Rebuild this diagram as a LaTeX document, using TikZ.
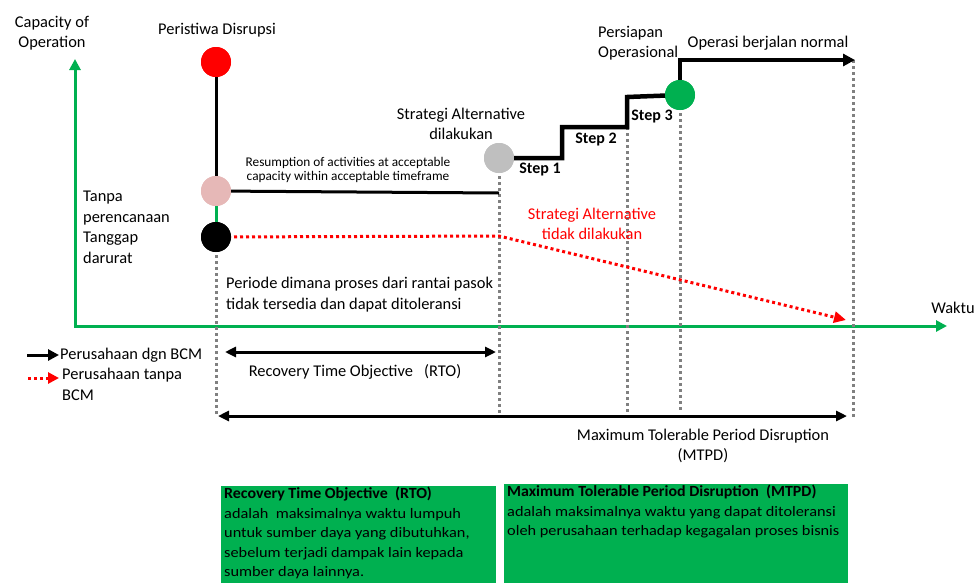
\documentclass[tikz,border=0pt]{standalone}
\usepackage{fontspec}
\setmainfont{Carlito}
\newfontfamily\boxbody[FakeStretch=1.125]{Carlito}
\newfontfamily\boxhead[FakeStretch=1.03]{Carlito}
\newcommand{\boxtitle}[1]{{\boxhead\bfseries\fontsize{15.5}{19.5}\selectfont #1}}
\usetikzlibrary{arrows.meta}
\definecolor{axisgreen}{HTML}{00B050}
\definecolor{dotgray}{HTML}{808080}
\definecolor{pinkdot}{HTML}{E6B8B7}
\definecolor{altgray}{HTML}{BFBFBF}
\definecolor{alertred}{HTML}{FF0000}
\begin{document}
\begin{tikzpicture}[x=1pt,y=-1pt,
  dot/.style={circle,inner sep=0pt,minimum size=30pt,fill=#1},
  guide/.style={draw=dotgray,line width=3pt,dash pattern=on 3pt off 3pt},
  redpath/.style={draw=alertred,line width=3pt,dash pattern=on 3pt off 3pt},
  big/.style={inner sep=0pt,align=center,font=\fontsize{16.4}{20.5}\selectfont},
  bigl/.style={inner sep=0pt,align=left,font=\fontsize{16.4}{20.5}\selectfont},
  small/.style={inner sep=0pt,align=center,font=\fontsize{13.3}{14.5}\selectfont},
  steplbl/.style={inner sep=0pt,font=\bfseries\fontsize{16}{18}\selectfont},
  infobox/.style={fill=axisgreen,draw=none},
  infotext/.style={inner sep=0pt,align=left,anchor=north west,font=\boxbody\fontsize{14.5}{19.5}\selectfont}
]
\clip (0,0) rectangle (980,582);
\fill[white] (0,0) rectangle (980,582);

% axes
\coordinate (origin) at (75,326);
\coordinate (ytip) at (75,59);
\coordinate (xtip) at (947,326);
\draw[axisgreen,line width=3pt,{Triangle[length=11pt,width=11pt]}-{Triangle[length=11pt,width=11pt]}]
  (ytip) -- (origin) -- (xtip);
\node[big] (ylab) at (52,33) {Capacity of\\Operation};
\node[big] (xlab) at (953,308) {Waktu};

% milestone markers (placed first so lines can refer to them)
\node[dot=alertred] (disr) at (216,62) {};
\node[dot=pinkdot] (resum) at (216,191) {};
\node[dot=black] (nobcm) at (216,237) {};
\node[dot=altgray] (alt) at (499,158) {};
\node[dot=axisgreen] (prep) at (680,95) {};

% vertical time guides
\coordinate (g1a) at (216,237); \coordinate (g1b) at (216,416);
\coordinate (g2a) at (499,158); \coordinate (g2b) at (499,418);
\coordinate (g3a) at (627,97);  \coordinate (g3b) at (627,412);
\coordinate (g4a) at (680,95);  \coordinate (g4b) at (680,412);
\coordinate (g5a) at (853,60);  \coordinate (g5b) at (853,418);
\draw[guide] (g1a) -- (g1b);
\draw[guide] (g2a) -- (g2b);
\draw[guide] (g3a) -- (g3b);
\draw[guide] (g4a) -- (g4b);
\draw[guide] (g5a) -- (g5b);

% path without BCM
\coordinate (rbend) at (499,236);
\coordinate (rend) at (846,320);
\draw[redpath,-{Triangle[length=12pt,width=11pt]}] (nobcm.center) -- (rbend) -- (rend);

% path with BCM
\draw[black,line width=3pt] (disr.center) -- (resum.center);
\draw[axisgreen,line width=3pt] (resum.center) -- (nobcm.center);
\coordinate (resumend) at (499,193);
\draw[black,line width=3pt] (resum.center) -- (resumend);
\coordinate (s1) at (562,158); \coordinate (s1u) at (562,127);
\coordinate (s2) at (627,127); \coordinate (s2u) at (627,97);
\coordinate (s3u) at (680,60); \coordinate (normal) at (855,60);
\draw[black,line width=4.5pt,line join=miter]
  (alt.center) -- (s1) -- (s1u) -- (s2) -- (s2u) -- (prep.center);
\draw[black,line width=4.5pt,line join=miter,-{Triangle[length=12pt,width=12pt]}]
  (prep.center) -- (s3u) -- (normal);

% markers on top
\node[dot=alertred] at (disr) {};
\node[dot=pinkdot] at (resum) {};
\node[dot=black] at (nobcm) {};
\node[dot=altgray] at (alt) {};
\node[dot=axisgreen] at (prep) {};

% labels on the chart
\node[big] (disrlab) at (217,30) {Peristiwa Disrupsi};
\node[bigl,anchor=north west] (tanpa) at (83,191) {Tanpa\\perencanaan\\Tanggap\\darurat};
\node[small] (resumlab) at (348,170) {Resumption of activities at acceptable\\capacity within acceptable timeframe};
\node[big] (altlab) at (461,124) {Strategi Alternative\\dilakukan};
\node[steplbl] (st1) at (540,170) {Step 1};
\node[steplbl] (st2) at (596,140) {Step 2};
\node[steplbl] (st3) at (652,117) {Step 3};
\node[bigl,anchor=north west] (persiapan) at (598,26) {Persiapan\\Operasional};
\node[big] (normlab) at (768,43) {Operasi berjalan normal};
\node[big,text=alertred] (noalt) at (592,224) {Strategi Alternative\\tidak dilakukan};
\node[bigl,anchor=north west] (periode) at (226,277) {Periode dimana proses dari rantai pasok\\tidak tersedia dan dapat ditoleransi};

% legend
\coordinate (lg1a) at (27,355); \coordinate (lg1b) at (59,355);
\draw[black,line width=3pt,-{Triangle[length=11pt,width=11pt]}] (lg1a) -- (lg1b);
\node[bigl,anchor=west] (lg1) at (60,355) {Perusahaan dgn BCM};
\coordinate (lg2a) at (28,378); \coordinate (lg2b) at (59,378);
\draw[redpath,-{Triangle[length=11pt,width=11pt]}] (lg2a) -- (lg2b);
\node[bigl,anchor=north west] (lg2) at (62,368) {Perusahaan tanpa\\BCM};

% time spans
\coordinate (rtoa) at (225,352); \coordinate (rtob) at (496,352);
\draw[black,line width=3pt,{Triangle[length=11pt,width=10pt]}-{Triangle[length=11pt,width=10pt]}] (rtoa) -- (rtob);
\node[big] (rtolab) at (355,372) {Recovery Time Objective\ \ \ (RTO)};
\coordinate (mtpda) at (218,416); \coordinate (mtpdb) at (847,416);
\draw[black,line width=3pt,{Triangle[length=11pt,width=10pt]}-{Triangle[length=11pt,width=10pt]}] (mtpda) -- (mtpdb);
\node[big] (mtpdlab) at (703,446) {Maximum Tolerable Period Disruption\\(MTPD)};

% definition boxes
\fill[infobox] (221,486) rectangle (496,590);
\fill[infobox] (504,484) rectangle (848,590);
\node[infotext] (rtodef) at (224,487) {\boxtitle{Recovery Time Objective\ \ (RTO)}\\adalah\ \ maksimalnya waktu lumpuh\\untuk sumber daya yang dibutuhkan,\\sebelum terjadi dampak lain kepada\\sumber daya lainnya.};
\node[infotext] (mtpddef) at (507,485) {\boxtitle{Maximum Tolerable Period Disruption\ \ (MTPD)}\\adalah maksimalnya waktu yang dapat ditoleransi\\oleh perusahaan terhadap kegagalan proses bisnis};
\end{tikzpicture}
\end{document}
